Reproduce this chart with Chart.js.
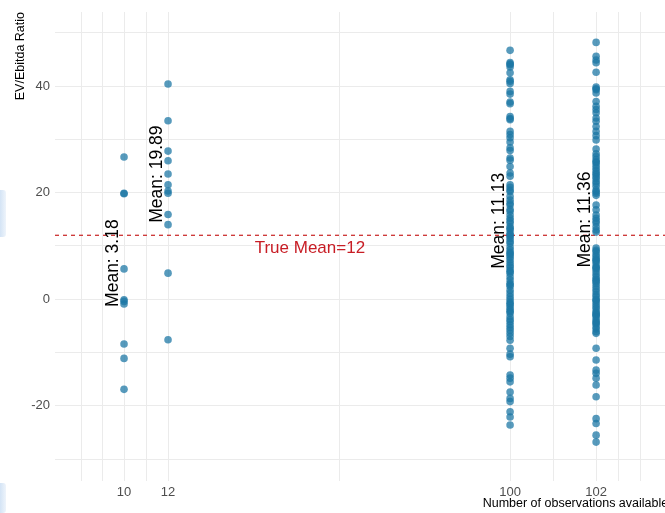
<!DOCTYPE html>
<html>
<head>
<meta charset="utf-8">
<script src="https://cdn.jsdelivr.net/npm/chart.js@4.4.1/dist/chart.umd.min.js"></script>
<style>
  html, body { margin: 0; padding: 0; background: #fff; overflow: hidden; width: 665px; height: 513px; }
  #wrap { position: relative; width: 669px; height: 513px; }
  .edge { position: absolute; left: 0; width: 6px; background: linear-gradient(to right, #d4e4f5, #eef4fb); border-radius: 0 3px 3px 0; }
</style>
</head>
<body>
<div id="wrap">
  <canvas id="scatterChart" width="669" height="513"></canvas>
  <div class="edge" style="top:190px;height:47px"></div>
  <div class="edge" style="top:483px;height:30px"></div>
</div>
<script>
// groups on the x axis (number of observations available)
const categories = [10, 12, 100, 102];

// EV/Ebitda ratios, one list per group
const obs10 = [26.7, 19.9, 19.8, 5.7, -0.1, -0.9, -0.4, -8.4, -11.1, -16.9];
const obs12 = [40.4, 33.5, 27.8, 26.0, 23.5, 21.5, 20.3, 19.9, 15.9, 14.0, 4.9, -7.6];
const obs100 = [46.7, 44.4, 44.2, 44.0, 43.6, 42.5, 41.2, 40.9, 40.5, 39.0, 38.5, 37.0, 36.7,
  34.3, 33.9, 33.7, 31.5, 30.9, 30.3, 29.5, 28.4, 27.9, 26.5, 26.1, 24.9, 23.7, 23.1, 21.5,
  21.0, 20.5, 20.2, 19.3, 18.6, 18.0, 17.7, 16.9, 16.5, 15.8, 15.2, 14.7, 14.3, 13.6, 13.3,
  13.0, 12.4, 12.1, 11.8, 11.4, 10.9, 10.5, 9.8, 9.3, 8.8, 8.6, 8.3, 7.9, 7.4, 6.9, 6.4, 6.0,
  5.5, 5.2, 4.9, 4.2, 3.6, 3.0, 2.7, 2.4, 1.7, 1.1, 0.5, 0.0, -0.5, -0.8, -1.1, -1.6, -2.0,
  -2.3, -2.6, -3.3, -3.8, -4.2, -4.8, -5.3, -5.8, -6.4, -7.0, -7.7, -9.2, -10.3, -10.8,
  -14.2, -14.8, -15.5, -17.4, -18.6, -19.2, -21.1, -22.1, -23.6];
const obs102 = [48.2, 45.6, 44.9, 44.4, 42.6, 39.8, 39.5, 39.3, 38.7, 37.1, 36.2, 35.6, 35.0,
  34.0, 33.4, 32.4, 31.5, 30.7, 29.9, 28.2, 27.3, 26.8, 26.2, 25.8, 25.6, 25.1, 24.6, 24.1,
  23.7, 23.4, 23.0, 22.6, 22.1, 21.7, 21.2, 20.5, 20.2, 19.9, 19.5, 17.7, 16.8, 15.8, 15.2,
  14.7, 14.3, 13.6, 13.0, 12.6, 9.6, 9.2, 8.9, 8.4, 8.0, 7.6, 7.3, 7.1, 6.6, 6.1, 5.9, 5.7,
  5.2, 4.7, 4.2, 3.8, 3.5, 3.3, 2.9, 2.4, 1.9, 1.4, 0.9, 0.5, 0.0, -0.2, -0.5, -1.0, -1.4,
  -1.8, -2.3, -2.6, -2.8, -3.0, -3.3, -3.8, -4.2, -4.4, -4.7, -5.2, -5.6, -6.1, -6.4, -9.2,
  -11.4, -13.3, -13.9, -14.8, -16.1, -18.3, -22.4, -23.3, -25.5, -26.8];

const groupMeans = [3.18, 19.89, 11.13, 11.36];
const trueMean = 12;

// axis ticks
const xTickLabels = [10, 12, 100, 102];
const xGridValues = [8, 9, 10, 11, 12, 56, 100, 101, 102, 103, 104];
const yTickLabels = [-20, 0, 20, 40];
const yGridValues = [-30, -20, -10, 0, 10, 20, 30, 40, 50];

const groups = [obs10, obs12, obs100, obs102];
const points = [];
groups.forEach((vals, i) => {
    vals.forEach(v => points.push({ x: categories[i], y: v }));
});

// x axis is stretched piecewise, like the original plot
class PiecewiseScale extends Chart.LinearScale {
    static id = 'piecewise';
    static defaults = {};
    toVirtual(v) {
        const kv = this.options.knotValues, kp = this.options.knotPos;
        const n = kv.length;
        if (v <= kv[0]) return kp[0] + (v - kv[0]) * (kp[1] - kp[0]) / (kv[1] - kv[0]);
        if (v >= kv[n - 1]) return kp[n - 1] + (v - kv[n - 1]) * (kp[n - 1] - kp[n - 2]) / (kv[n - 1] - kv[n - 2]);
        for (let i = 0; i < n - 1; i++) {
            if (v >= kv[i] && v <= kv[i + 1]) {
                return kp[i] + (v - kv[i]) * (kp[i + 1] - kp[i]) / (kv[i + 1] - kv[i]);
            }
        }
        return 0;
    }
    fromVirtual(t) {
        const kv = this.options.knotValues, kp = this.options.knotPos;
        const n = kv.length;
        if (t <= kp[0]) return kv[0] + (t - kp[0]) * (kv[1] - kv[0]) / (kp[1] - kp[0]);
        if (t >= kp[n - 1]) return kv[n - 1] + (t - kp[n - 1]) * (kv[n - 1] - kv[n - 2]) / (kp[n - 1] - kp[n - 2]);
        for (let i = 0; i < n - 1; i++) {
            if (t >= kp[i] && t <= kp[i + 1]) {
                return kv[i] + (t - kp[i]) * (kv[i + 1] - kv[i]) / (kp[i + 1] - kp[i]);
            }
        }
        return 0;
    }
    getPixelForValue(value) {
        const a = this.toVirtual(this.min), b = this.toVirtual(this.max);
        return this.getPixelForDecimal((this.toVirtual(value) - a) / (b - a));
    }
    getValueForPixel(pixel) {
        const a = this.toVirtual(this.min), b = this.toVirtual(this.max);
        return this.fromVirtual(a + this.getDecimalForPixel(pixel) * (b - a));
    }
    buildTicks() {
        return xGridValues.map(v => ({ value: v }));
    }
}
Chart.register(PiecewiseScale);

const fontFamily = '"Liberation Sans", Arial, Helvetica, sans-serif';

const overlayPlugin = {
    id: 'overlay',
    beforeDatasetsDraw(chart) {
        const { ctx, chartArea, scales } = chart;
        const y = scales.y.getPixelForValue(trueMean);
        ctx.save();
        ctx.strokeStyle = '#cc3333';
        ctx.lineWidth = 1.3;
        ctx.setLineDash([4, 4]);
        ctx.beginPath();
        ctx.moveTo(chartArea.left, y);
        ctx.lineTo(chartArea.right, y);
        ctx.stroke();
        ctx.restore();
    },
    afterDatasetsDraw(chart) {
        const { ctx, chartArea, scales } = chart;
        ctx.save();
        // mean labels
        ctx.fillStyle = '#000';
        ctx.font = '17.5px ' + fontFamily;
        ctx.textAlign = 'center';
        ctx.textBaseline = 'middle';
        categories.forEach((c, i) => {
            const px = scales.x.getPixelForValue(c) - 11;
            const py = scales.y.getPixelForValue(groupMeans[i] + 3.6);
            ctx.save();
            ctx.translate(px, py);
            ctx.rotate(-Math.PI / 2);
            ctx.fillText('Mean: ' + groupMeans[i].toFixed(2), 0, 0);
            ctx.restore();
        });
        // true mean label
        ctx.fillStyle = '#c81d25';
        ctx.font = '17px ' + fontFamily;
        ctx.fillText('True Mean=' + trueMean, scales.x.getPixelForValue(48.5), scales.y.getPixelForValue(trueMean - 2.5));
        // axis titles
        ctx.fillStyle = '#000';
        ctx.font = '12.5px ' + fontFamily;
        ctx.textAlign = 'right';
        ctx.fillText('Number of observations available', chartArea.right + 3, 504);
        ctx.translate(21, chartArea.top);
        ctx.rotate(-Math.PI / 2);
        ctx.textAlign = 'right';
        ctx.fillText('EV/Ebitda Ratio', 0, 0);
        ctx.restore();
    }
};

const ctx = document.getElementById('scatterChart').getContext('2d');
const scatterChart = new Chart(ctx, {
    type: 'scatter',
    data: {
        datasets: [{
            data: points,
            backgroundColor: 'rgba(28,119,164,0.74)',
            borderWidth: 0,
            pointRadius: 3.8,
            pointHoverRadius: 3.8
        }]
    },
    options: {
        responsive: false,
        animation: false,
        events: [],
        layout: { padding: { top: 12, left: 0, right: 0, bottom: 0 } },
        plugins: {
            legend: { display: false },
            tooltip: { enabled: false }
        },
        scales: {
            x: {
                type: 'piecewise',
                min: 6.79,
                max: 105.14,
                knotValues: [8, 10, 12, 100, 102, 104],
                knotPos: [0, 43, 87, 429, 515, 559],
                border: { display: false },
                grid: { color: '#ebebeb', lineWidth: 1, drawTicks: false },
                ticks: {
                    autoSkip: false,
                    maxRotation: 0,
                    padding: 4,
                    color: '#4d4d4d',
                    font: { size: 13, family: fontFamily },
                    callback: v => xTickLabels.includes(v) ? String(v) : ''
                },
                afterFit: scale => {
                    scale.height = 32;
                    scale.paddingLeft = 0;
                    scale.paddingRight = 0;
                }
            },
            y: {
                type: 'linear',
                min: -34.1,
                max: 53.9,
                border: { display: false },
                grid: { color: '#ebebeb', lineWidth: 1, drawTicks: false },
                afterBuildTicks: scale => { scale.ticks = yGridValues.map(v => ({ value: v })); },
                ticks: {
                    padding: 5,
                    color: '#4d4d4d',
                    font: { size: 13, family: fontFamily },
                    callback: v => yTickLabels.includes(v) ? String(v) : ''
                },
                afterFit: scale => {
                    scale.width = 55;
                    scale.paddingTop = 0;
                    scale.paddingBottom = 0;
                }
            }
        }
    },
    plugins: [overlayPlugin]
});
</script>
</body>
</html>
